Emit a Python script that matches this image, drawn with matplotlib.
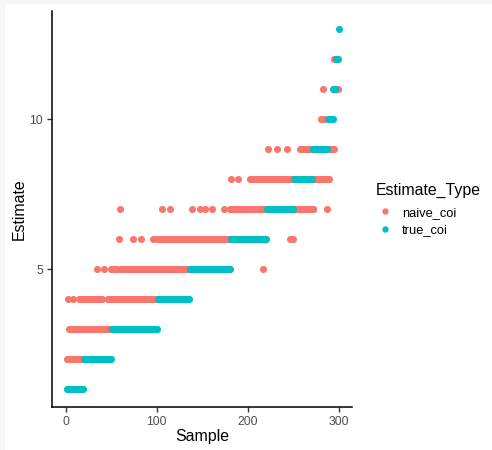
import matplotlib
matplotlib.use("Agg")
import matplotlib.pyplot as plt
from matplotlib.lines import Line2D
from matplotlib.patches import Rectangle
import numpy as np

plt.rcParams['font.family'] = ['Liberation Sans', 'DejaVu Sans']

# ---- data ----
# true COI: sorted staircase, number of samples at each level
true_levels = [1, 2, 3, 4, 5, 6, 7, 8, 9, 10, 11, 12, 13]
true_counts = [19, 31, 50, 35, 45, 40, 30, 20, 17, 6, 3, 3, 1]

# naive COI estimates: (estimate, first sample, last sample) runs
naive_runs = [
    (2, 1, 20),
    (3, 4, 50),
    (4, 2, 2), (4, 8, 8), (4, 15, 40), (4, 46, 100),
    (5, 34, 34), (5, 42, 42), (5, 50, 56), (5, 61, 135), (5, 217, 217),
    (6, 58, 58), (6, 74, 74), (6, 83, 83), (6, 96, 96), (6, 100, 180),
    (6, 246, 246), (6, 250, 250),
    (7, 60, 60), (7, 106, 106), (7, 115, 115), (7, 139, 139), (7, 148, 148),
    (7, 153, 153), (7, 161, 161), (7, 174, 174), (7, 180, 220), (7, 251, 272),
    (7, 287, 287),
    (8, 182, 182), (8, 189, 189), (8, 202, 250), (8, 272, 289),
    (9, 222, 222), (9, 232, 232), (9, 243, 243), (9, 257, 257), (9, 259, 270),
    (9, 288, 295),
    (10, 280, 284),
    (11, 282, 282), (11, 299, 299),
    (12, 295, 295),
]

x_ticks = [0, 100, 200, 300]
y_ticks = [5, 10]
legend_title = "Estimate_Type"
type_labels = ["naive_coi", "true_coi"]
type_colors = ["#F8766D", "#00BFC4"]

# build long-format points
true_est = np.repeat(true_levels, true_counts)
true_sample = np.arange(1, len(true_est) + 1)

naive_sample = []
naive_est = []
for est, s0, s1 in naive_runs:
    for s in range(s0, s1 + 1):
        naive_sample.append(s)
        naive_est.append(est)

# ---- figure ----
W, H = 492, 450
fig = plt.figure(figsize=(W / 100, H / 100), dpi=100)
fig.patch.set_facecolor("white")
# faint border strips at top/left
fig.patches.append(Rectangle((0, 1 - 4 / H), 1, 4 / H, transform=fig.transFigure,
                             facecolor="#f7f7f7", edgecolor="none", zorder=-10))
fig.patches.append(Rectangle((0, 0), 5 / W, 1, transform=fig.transFigure,
                             facecolor="#f7f7f7", edgecolor="none", zorder=-10))

ax_l, ax_r, ax_t, ax_b = 52.3, 352.3, 11, 407
ax = fig.add_axes([ax_l / W, 1 - ax_b / H, (ax_r - ax_l) / W, (ax_b - ax_t) / H])

ms = 26
ax.scatter(naive_sample, naive_est, s=ms, color=type_colors[0], linewidths=0, zorder=2)
ax.scatter(true_sample, true_est, s=ms, color=type_colors[1], linewidths=0, zorder=3)

ax.set_xlim(-14.7, 314.7)
ax.set_ylim(0.4, 13.6)
ax.set_xticks(x_ticks)
ax.set_yticks(y_ticks)

for side in ["top", "right"]:
    ax.spines[side].set_visible(False)
for side in ["left", "bottom"]:
    ax.spines[side].set_color("black")
    ax.spines[side].set_linewidth(1.1)

ax.tick_params(axis="both", length=3.8, width=1.0, color="#333333",
               labelcolor="#4d4d4d", labelsize=8.8, pad=3)

ax.set_xlabel("Sample", fontsize=11.4, color="black")
ax.set_ylabel("Estimate", fontsize=11.4, color="black")
ax.xaxis.set_label_coords(0.5, -(437 - ax_b) / (ax_b - ax_t))
ax.xaxis.label.set_va("center")
ax.yaxis.set_label_coords((19 - ax_l) / (ax_r - ax_l), 0.5)
ax.yaxis.label.set_va("center")

# legend title as figure text, entries as legend
fig.text(376 / W, 1 - 190 / H, legend_title, fontsize=11.4, color="black",
         ha="left", va="center")
handles = [Line2D([], [], linestyle="none", marker="o", markersize=4.6,
                  markerfacecolor=c, markeredgewidth=0) for c in type_colors]
leg = fig.legend(handles, type_labels,
                 loc="center left", bbox_to_anchor=(376 / W, 1 - 221.5 / H),
                 frameon=False, fontsize=9.3,
                 handlelength=1.35, handletextpad=0.65, labelspacing=0.45,
                 borderpad=0, borderaxespad=0)

fig.savefig("out.png", dpi=100)
